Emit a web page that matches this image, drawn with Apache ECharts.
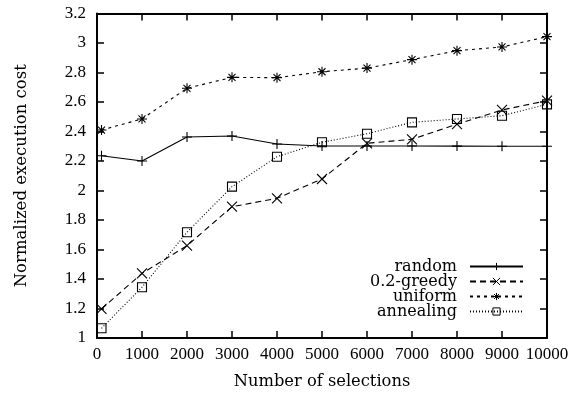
<!DOCTYPE html>
<html>
<head>
<meta charset="utf-8">
<script src="https://cdn.jsdelivr.net/npm/echarts@6/dist/echarts.min.js"></script>
<style>
  html, body { margin: 0; padding: 0; background: #fff; }
  #chart { width: 580px; height: 399px; }
</style>
</head>
<body>
<div id="chart"></div>
<script>
// 横轴：选择次数
const selections = [100, 1000, 2000, 3000, 4000, 5000, 6000, 7000, 8000, 9000, 10000];
// 各策略的归一化执行代价
const randomCost = [2.236, 2.20, 2.363, 2.37, 2.315, 2.302, 2.302, 2.302, 2.301, 2.300, 2.300];
const greedyCost = [1.197, 1.438, 1.626, 1.89, 1.947, 2.078, 2.32, 2.347, 2.45, 2.546, 2.609];
const uniformCost = [2.41, 2.485, 2.693, 2.767, 2.765, 2.805, 2.83, 2.887, 2.948, 2.973, 3.043];
const annealingCost = [1.066, 1.344, 1.717, 2.026, 2.229, 2.327, 2.385, 2.462, 2.485, 2.507, 2.584];

const NUM_FONT = 'Liberation Serif';
const TEXT_FONT = 'DejaVu Serif';

// 标记符号
const SYM_PLUS = 'path://M5 0 V10 M0 5 H10';
const SYM_CROSS = 'path://M0 0 L10 10 M10 0 L0 10';
const SYM_STAR = 'path://M5 0 V10 M0 5 H10 M1.5 1.5 L8.5 8.5 M8.5 1.5 L1.5 8.5';
const SYM_BOX = 'path://M0 0 H10 V10 H0 Z';

function pairs(values) {
  return selections.map((x, i) => [x, values[i]]);
}

function makeSeries(name, values, symbol, size, dash) {
  return {
    name: name,
    type: 'line',
    data: pairs(values),
    symbol: symbol,
    symbolSize: size,
    showAllSymbol: true,
    animation: false,
    lineStyle: { color: '#000', width: 1.1, type: dash },
    itemStyle: { color: 'rgba(0,0,0,0)', borderColor: '#000', borderWidth: 1.1 },
    emphasis: { disabled: true }
  };
}

const chart = echarts.init(document.getElementById('chart'));

const axisLine = { show: true, onZero: false, lineStyle: { color: '#000', width: 2 } };
const axisTick = { show: true, inside: true, length: 7, lineStyle: { color: '#000', width: 1.5 } };

chart.setOption({
  backgroundColor: '#fff',
  animation: false,
  grid: { left: 97, right: 33, top: 13.5, bottom: 61 },
  legend: {
    orient: 'vertical',
    right: 56,
    top: 258.5,
    padding: 0,
    align: 'right',
    itemWidth: 53,
    itemHeight: 9,
    itemGap: -1,
    itemStyle: { color: 'rgba(0,0,0,0)', borderColor: '#000', borderWidth: 1 },
    textStyle: { fontFamily: TEXT_FONT, fontSize: 16, color: '#000', padding: [0, 8, 0, 0] },
    data: ['random', '0.2-greedy', 'uniform', 'annealing']
  },
  xAxis: [
    {
      type: 'value',
      min: 0,
      max: 10000,
      interval: 1000,
      name: 'Number of selections',
      nameLocation: 'middle',
      nameGap: 36,
      nameTextStyle: { fontFamily: TEXT_FONT, fontSize: 16.3, color: '#000' },
      axisLine: axisLine,
      axisTick: axisTick,
      axisLabel: { fontFamily: NUM_FONT, fontSize: 17, color: '#000', margin: 8, formatter: v => String(v) },
      splitLine: { show: false }
    },
    {
      type: 'value',
      position: 'top',
      min: 0,
      max: 10000,
      interval: 1000,
      axisLine: axisLine,
      axisTick: axisTick,
      axisLabel: { show: false },
      splitLine: { show: false }
    }
  ],
  yAxis: [
    {
      type: 'value',
      min: 1,
      max: 3.2,
      interval: 0.2,
      name: 'Normalized execution cost',
      nameLocation: 'middle',
      nameGap: 67,
      nameTextStyle: { fontFamily: TEXT_FONT, fontSize: 16.5, color: '#000' },
      axisLine: axisLine,
      axisTick: axisTick,
      axisLabel: { fontFamily: NUM_FONT, fontSize: 17, color: '#000', margin: 11 },
      splitLine: { show: false }
    },
    {
      type: 'value',
      position: 'right',
      min: 1,
      max: 3.2,
      interval: 0.2,
      axisLine: axisLine,
      axisTick: axisTick,
      axisLabel: { show: false },
      splitLine: { show: false }
    }
  ],
  series: [
    makeSeries('random', randomCost, SYM_PLUS, 10, 'solid'),
    makeSeries('0.2-greedy', greedyCost, SYM_CROSS, 10, [6, 4]),
    makeSeries('uniform', uniformCost, SYM_STAR, 10, [3, 4]),
    makeSeries('annealing', annealingCost, SYM_BOX, 9, [1, 2])
  ]
});
</script>
</body>
</html>
